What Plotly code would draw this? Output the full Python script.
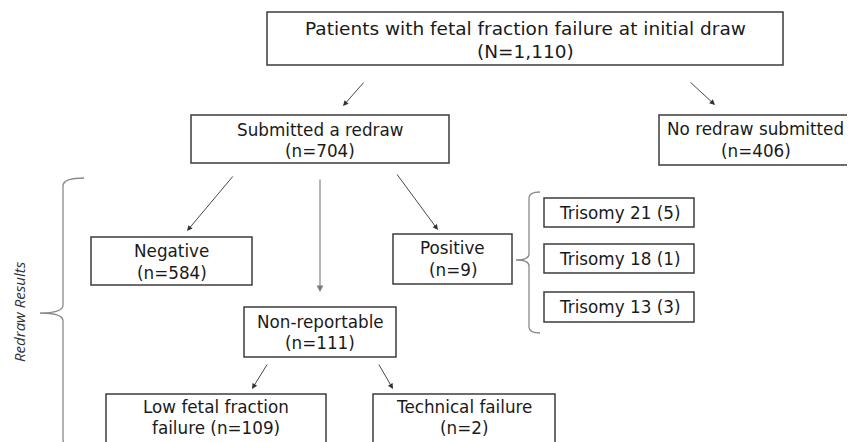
import plotly.graph_objects as go

# ---- data ----
node_titles = ["Patients with fetal fraction failure at initial draw",
               "Submitted a redraw", "No redraw submitted",
               "Negative", "Positive", "Non-reportable",
               "Low fetal fraction failure", "Technical failure"]
node_counts = [1110, 704, 406, 584, 9, 111, 109, 2]
trisomy_labels = ["Trisomy 21", "Trisomy 18", "Trisomy 13"]
trisomy_counts = [5, 1, 3]
brace_label = "Redraw Results"

# ---- layout (screen-pixel positions; page body has an 8px margin) ----
OFF = 8
W, H = 855, 442
# x0, x1, y0, y1
node_boxes = [(267, 783, 12, 65), (191, 449, 115, 163), (659, 852, 115, 165),
              (91, 252, 237, 285), (393, 512, 234, 284), (244, 396, 307, 357),
              (106, 326, 394, 452), (373, 555, 394, 452)]
node_line_y = [(28, 51), (130, 151), (129, 151), (251, 273), (248, 270),
               (322, 343), (407, 428), (407, 428)]
node_font = [18.5, 16.8, 16.8, 16.8, 16.8, 16.8, 16.8, 16.8]
tri_boxes = [(544, 694, 198, 227), (544, 694, 244, 273), (544, 694, 292, 322)]
arrows = [((365, 81), (343, 106)), ((689, 81), (715, 105)),
          ((234, 175), (187, 231)), ((396, 173), (438, 230)),
          ((268, 363), (252, 389)), ((378, 363), (393, 389))]

FONT = "DejaVu Sans"
BOX_COL = "#3c3c3c"
TXT_COL = "#1a1a1a"


def node_lines(i):
    t, n = node_titles[i], node_counts[i]
    if i == 0:
        return [t, f"(N={n:,})"]
    if i == 6:
        a, b = t.rsplit(" ", 1)
        return [a, f"{b} (n={n})"]
    return [t, f"(n={n})"]


fig = go.Figure()
fig.add_trace(go.Scatter(x=[OFF, W], y=[OFF, H], mode="markers",
                         marker=dict(opacity=0), hoverinfo="skip", showlegend=False))

shapes, annotations = [], []
for i, (x0, x1, y0, y1) in enumerate(node_boxes):
    shapes.append(dict(type="rect", xref="x", yref="y", x0=x0, x1=x1, y0=y0, y1=y1,
                       line=dict(color=BOX_COL, width=1.5), fillcolor="white"))
    for line, ly in zip(node_lines(i), node_line_y[i]):
        annotations.append(dict(x=(x0 + x1) / 2, y=ly, xref="x", yref="y",
                                text=line, showarrow=False,
                                font=dict(family=FONT, size=node_font[i], color=TXT_COL),
                                xanchor="center", yanchor="middle"))

for (x0, x1, y0, y1), lab, c in zip(tri_boxes, trisomy_labels, trisomy_counts):
    shapes.append(dict(type="rect", xref="x", yref="y", x0=x0, x1=x1, y0=y0, y1=y1,
                       line=dict(color=BOX_COL, width=1.5), fillcolor="white"))
    annotations.append(dict(x=(x0 + x1) / 2, y=(y0 + y1) / 2, xref="x", yref="y",
                            text=f"{lab} ({c})", showarrow=False,
                            font=dict(family=FONT, size=16.8, color=TXT_COL),
                            xanchor="center", yanchor="middle"))

for (sx, sy), (ex, ey) in arrows:
    annotations.append(dict(x=ex, y=ey, ax=sx, ay=sy, xref="x", yref="y",
                            axref="x", ayref="y", text="", showarrow=True,
                            arrowhead=2, arrowsize=1.2, arrowwidth=0.9,
                            arrowcolor="#333333"))
# vertical arrow to Non-reportable (lighter grey)
annotations.append(dict(x=320, y=292, ax=320, ay=178, xref="x", yref="y",
                        axref="x", ayref="y", text="", showarrow=True,
                        arrowhead=2, arrowsize=1.2, arrowwidth=1.1,
                        arrowcolor="#7a7a7a"))

# braces
BR_COL = "#8a8a8a"
shapes.append(dict(type="path", xref="x", yref="y",
                   path="M 84 178 Q 63 178 63 186 L 63 305 Q 63 313 40 313 "
                        "Q 63 313 63 321 L 63 440 Q 63 448 84 448",
                   line=dict(color=BR_COL, width=1.3)))
shapes.append(dict(type="path", xref="x", yref="y",
                   path="M 540 192 Q 529 192 529 198 L 529 254 Q 529 260 516 260 "
                        "Q 529 260 529 266 L 529 327 Q 529 333 540 333",
                   line=dict(color=BR_COL, width=1.3)))

annotations.append(dict(x=19, y=312, xref="x", yref="y", text=f"<i>{brace_label}</i>",
                        showarrow=False, textangle=-90,
                        font=dict(family="Open Sans", size=15, color="#333333"),
                        xanchor="center", yanchor="middle"))

fig.update_layout(width=W - OFF, height=H - OFF, margin=dict(l=0, r=0, t=0, b=0),
                  paper_bgcolor="white", plot_bgcolor="white",
                  shapes=shapes, annotations=annotations, showlegend=False,
                  xaxis=dict(range=[OFF, W], visible=False, fixedrange=True),
                  yaxis=dict(range=[H, OFF], visible=False, fixedrange=True))

fig.write_html("out.html")
